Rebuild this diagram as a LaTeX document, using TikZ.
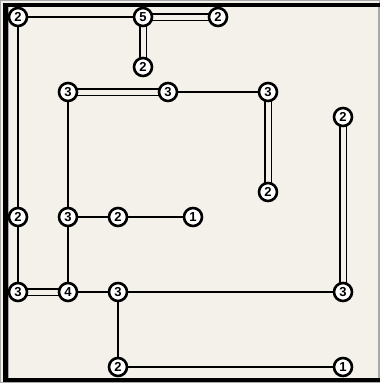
\documentclass[tikz,border=0pt]{standalone}
\usepackage{fontspec}
\setmainfont{Liberation Sans}
\pgfdeclarelayer{bg}
\pgfdeclarelayer{edges}
\pgfsetlayers{bg,edges,main}
\definecolor{paper}{HTML}{F3F1EA}
\definecolor{rim}{HTML}{A8A8A8}
\tikzset{
  isle/.style={circle, draw=black, fill=white, line width=2.6pt, minimum size=18pt, inner sep=0pt,
    font=\fontsize{13}{13}\selectfont\bfseries},
  one/.style={line width=1.7pt, black},
  two/.style={line width=1.6pt, draw=black, double=paper, double distance=5pt},
}
\begin{document}
\begin{tikzpicture}[x=1pt,y=-1pt]
\useasboundingbox (0,0) rectangle (380,383);
\begin{pgfonlayer}{bg}
  \fill[paper] (0,0) rectangle (380,383);
  \draw[rim, line width=1pt] (0.5,0.5) rectangle (379.5,382.5);
  \fill[black] (3,3) rectangle (7.5,382);
  \fill[black] (3,3) rectangle (380,6.5);
  \fill[black] (3,377.5) rectangle (380,382);
  \draw[rim, line width=1pt] (378.5,6.5) -- (378.5,377.5);
  \draw[rim, line width=0.8pt] (8,6.5) -- (8,377.5);
\end{pgfonlayer}
\node[isle] (A) at (18,17) {2};
\node[isle] (B) at (143,17) {5};
\node[isle] (C) at (218,17) {2};
\node[isle] (D) at (143,67) {2};
\node[isle] (E) at (68,92) {3};
\node[isle] (F) at (168,92) {3};
\node[isle] (G) at (268,92) {3};
\node[isle] (H) at (343,117) {2};
\node[isle] (I) at (268,192) {2};
\node[isle] (J) at (18,217) {2};
\node[isle] (K) at (68,217) {3};
\node[isle] (L) at (118,217) {2};
\node[isle] (M) at (193,217) {1};
\node[isle] (N) at (18,292) {3};
\node[isle] (O) at (68,292) {4};
\node[isle] (P) at (118,292) {3};
\node[isle] (Q) at (343,292) {3};
\node[isle] (R) at (118,367) {2};
\node[isle] (S) at (343,367) {1};
\begin{pgfonlayer}{edges}
  \draw[one] (A.center) -- (B.center);
  \draw[two] (B.center) -- (C.center);
  \draw[two] (B.center) -- (D.center);
  \draw[two] (E.center) -- (F.center);
  \draw[one] (F.center) -- (G.center);
  \draw[two] (G.center) -- (I.center);
  \draw[two] (H.center) -- (Q.center);
  \draw[one] (A.center) -- (J.center);
  \draw[one] (J.center) -- (N.center);
  \draw[one] (E.center) -- (K.center);
  \draw[one] (K.center) -- (L.center);
  \draw[one] (L.center) -- (M.center);
  \draw[one] (K.center) -- (O.center);
  \draw[two] (N.center) -- (O.center);
  \draw[one] (O.center) -- (P.center);
  \draw[one] (P.center) -- (Q.center);
  \draw[one] (P.center) -- (R.center);
  \draw[one] (R.center) -- (S.center);
\end{pgfonlayer}
\end{tikzpicture}
\end{document}
